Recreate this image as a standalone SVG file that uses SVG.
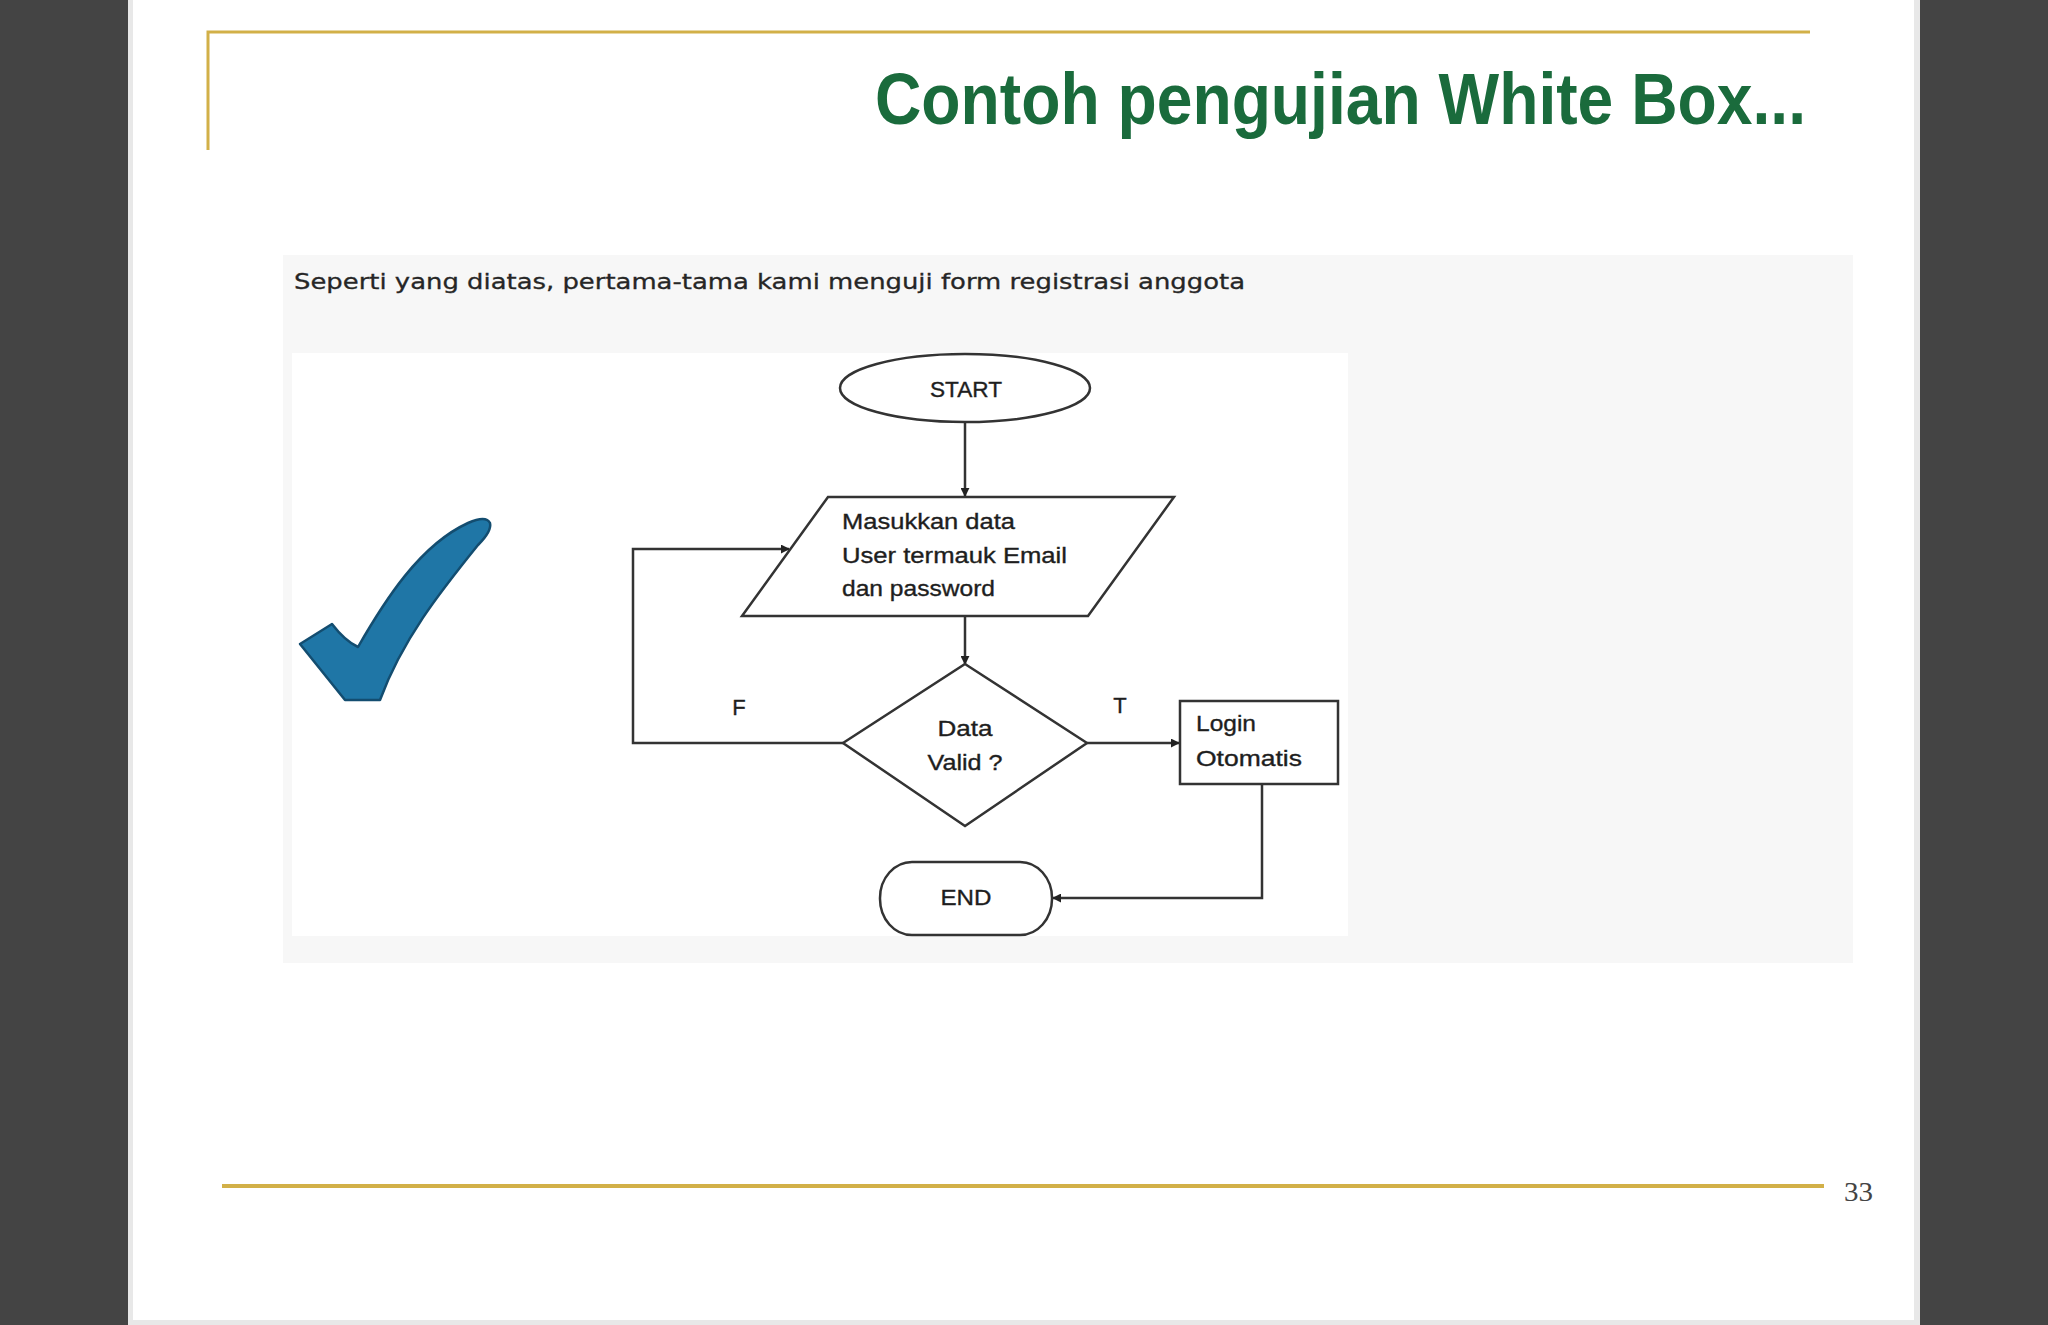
<svg xmlns="http://www.w3.org/2000/svg" width="2048" height="1325" viewBox="0 0 2048 1325">
  <defs>
    <style>
      .shape { fill: #ffffff; stroke: #333333; stroke-width: 2.5; }
      .conn { fill: none; stroke: #333333; stroke-width: 2.5; }
      .fc { font-family: "Liberation Sans", Arial, sans-serif; font-size: 22px; fill: #1e1e1e; stroke: #1e1e1e; stroke-width: 0.35; }
      .mid { text-anchor: middle; }
      .gold { stroke: #d2b048; fill: none; }
    </style>
    <marker id="arr" viewBox="0 0 10 10" refX="9" refY="5" markerWidth="9" markerHeight="9" markerUnits="userSpaceOnUse" orient="auto">
      <path d="M0,0 L10,5 L0,10 Z" fill="#222222"/>
    </marker>
  </defs>

  <!-- background / page -->
  <rect x="0" y="0" width="2048" height="1325" fill="#444444"/>
  <rect x="128" y="0" width="1792" height="1325" fill="#e8e8e8"/>
  <rect x="133" y="0" width="1781" height="1320" fill="#ffffff"/>

  <!-- header decoration -->
  <path class="gold" d="M208,150 L208,32 L1810,32" stroke-width="3"/>
  <text x="1806" y="124" text-anchor="end" font-family="Liberation Sans, Arial, sans-serif" font-size="72" font-weight="bold" fill="#1a6b3c" textLength="931" lengthAdjust="spacingAndGlyphs">Contoh pengujian White Box...</text>

  <!-- content panel -->
  <rect x="283" y="255" width="1570" height="708" fill="#f7f7f7"/>
  <text x="294" y="289" font-family="DejaVu Sans, Verdana, sans-serif" font-size="21" fill="#262626" stroke="#262626" stroke-width="0.3" textLength="951" lengthAdjust="spacingAndGlyphs">Seperti yang diatas, pertama-tama kami menguji form registrasi anggota</text>
  <rect x="292" y="353" width="1056" height="583" fill="#ffffff"/>

  <!-- checkmark -->
  <path d="M300,644 L332,624 Q345,641 358,647 C385,600 420,545 468,523 Q486,515 490,523 Q492,531 478,545 C440,592 402,640 380,700 L345,700 Z" fill="#1f76a6" stroke="#134d70" stroke-width="2.5" stroke-linejoin="round"/>

  <!-- connectors -->
  <g id="connectors">
    <path class="conn" d="M965,422 L965,496" marker-end="url(#arr)"/>
    <path class="conn" d="M965,616 L965,664" marker-end="url(#arr)"/>
    <path class="conn" d="M843,743 L633,743 L633,549 L789,549" marker-end="url(#arr)"/>
    <path class="conn" d="M1087,743 L1179,743" marker-end="url(#arr)"/>
    <path class="conn" d="M1262,784 L1262,898 L1053,898" marker-end="url(#arr)"/>
    <text class="fc mid" x="739" y="715">F</text>
    <text class="fc mid" x="1120" y="713">T</text>
  </g>

  <!-- nodes -->
  <g id="start">
    <ellipse class="shape" cx="965" cy="388" rx="125" ry="34"/>
    <text class="fc mid" x="966" y="397" textLength="72" lengthAdjust="spacingAndGlyphs">START</text>
  </g>
  <g id="input">
    <polygon class="shape" points="828,497 1174,497 1088,616 742,616"/>
    <text class="fc" x="842" y="529" textLength="173" lengthAdjust="spacingAndGlyphs">Masukkan data</text>
    <text class="fc" x="842" y="563" textLength="225" lengthAdjust="spacingAndGlyphs">User termauk Email</text>
    <text class="fc" x="842" y="596" textLength="153" lengthAdjust="spacingAndGlyphs">dan password</text>
  </g>
  <g id="decision">
    <polygon class="shape" points="965,664 1087,743 965,826 843,743"/>
    <text class="fc mid" x="965" y="736" textLength="55" lengthAdjust="spacingAndGlyphs">Data</text>
    <text class="fc mid" x="965" y="770" textLength="75" lengthAdjust="spacingAndGlyphs">Valid ?</text>
  </g>
  <g id="login">
    <rect class="shape" x="1180" y="701" width="158" height="83"/>
    <text class="fc" x="1196" y="731" textLength="60" lengthAdjust="spacingAndGlyphs">Login</text>
    <text class="fc" x="1196" y="766" textLength="106" lengthAdjust="spacingAndGlyphs">Otomatis</text>
  </g>
  <g id="end">
    <rect class="shape" x="880" y="862" width="172" height="73" rx="32" ry="36"/>
    <text class="fc mid" x="966" y="905" textLength="51" lengthAdjust="spacingAndGlyphs">END</text>
  </g>

  <!-- footer -->
  <line class="gold" x1="222" y1="1186" x2="1824" y2="1186" stroke-width="4"/>
  <text x="1844" y="1201" font-family="Liberation Serif, Times New Roman, serif" font-size="27" fill="#444444" textLength="29" lengthAdjust="spacingAndGlyphs">33</text>
</svg>
